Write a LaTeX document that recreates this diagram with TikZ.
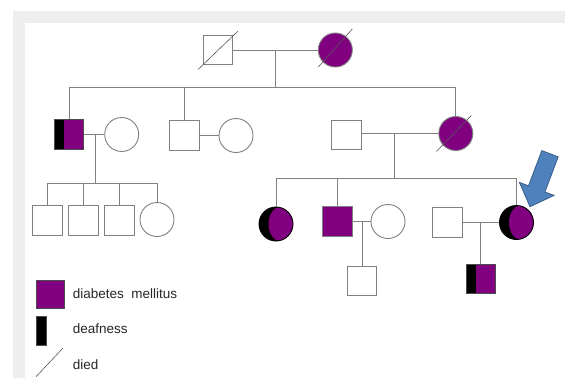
\documentclass[tikz,border=0pt]{standalone}
\usepackage{fontspec}
\setmainfont{Liberation Sans}
\definecolor{dpurple}{HTML}{800080}
\definecolor{lgray}{HTML}{808080}
\definecolor{bggray}{HTML}{EEEEEE}
\definecolor{arrowblue}{HTML}{4F81BD}
\definecolor{arrowedge}{HTML}{385D8A}
\begin{document}
\begin{tikzpicture}[x=1pt,y=-1pt,
  conn/.style={draw=lgray,line width=0.9pt},
  male/.style={rectangle,draw=lgray,line width=0.9pt,fill=white,minimum size=29.5pt,inner sep=0pt},
  female/.style={circle,draw=lgray,line width=0.9pt,fill=white,minimum size=34pt,inner sep=0pt},
  affm/.style={male,fill=dpurple},
  afff/.style={female,fill=dpurple},
  halfsq/.style={male,fill=dpurple,draw=black!70,
    path picture={\fill[black] (path picture bounding box.north west) rectangle ([xshift=10pt]path picture bounding box.south west);}},
  moon/.style={female,fill=black,draw=black,
    path picture={\fill[dpurple] ([xshift=5pt]path picture bounding box.center) ellipse [x radius=12.5pt, y radius=17.5pt];}},
  died/.style={draw=black!65,line width=0.6pt},
  lbl/.style={anchor=base west,inner sep=0pt,font=\fontsize{13.5pt}{16pt}\selectfont,text=black!85}
]
\useasboundingbox (0,0) rectangle (565,378);
% background
\fill[bggray] (12.7,11) rectangle (565,378);
\fill[white] (25,23) rectangle (565,378);

% Generation I
\node[male] (I1) at (218,50) {};
\node[afff] (I2) at (335.3,50) {};
\draw[died] ([shift={(-4.8,4.3)}]I1.south west) -- ([shift={(4.6,-3.6)}]I1.north east);
\draw[died] ([shift={(-17,17)}]I2.center) -- ([shift={(17,-21)}]I2.center);
\draw[conn] (I1) -- (I2);
\coordinate (m1) at (275.7,50);
\coordinate (s1) at (275.7,87.5);
\draw[conn] (m1) -- (s1);

% Generation II
\node[halfsq] (II1) at (69,134.5) {};
\node[female] (II2) at (121.7,134.5) {};
\node[male] (II3) at (184.5,135.5) {};
\node[female] (II4) at (236,135.5) {};
\node[male] (II5) at (346.5,135) {};
\node[afff] (II6) at (455.8,133.5) {};
\draw[died] ([shift={(-19.5,18)}]II6.center) -- ([shift={(15.5,-18)}]II6.center);
\draw[conn] (s1) -| (II1.north);
\draw[conn] (s1) -| (II3.north);
\draw[conn] (s1) -| (II6.north);
\draw[conn] (II1) -- (II2);
\draw[conn] (II3) -- (II4);
\draw[conn] (II5.east |- II6.center) -- (II6);

% left family gen III
\coordinate (m2) at (95,134.5);
\coordinate (s2) at (95,183);
\draw[conn] (m2) -- (s2);
\node[male] (III1) at (47.5,220.5) {};
\node[male] (III2) at (83.5,220.5) {};
\node[male] (III3) at (119.5,220.5) {};
\node[female] (III4) at (157,219.5) {};
\draw[conn] (s2) -| (III1.north);
\draw[conn] (s2) -| (III2.north);
\draw[conn] (s2) -| (III3.north);
\draw[conn] (s2) -| (III4.north);

% right family gen III
\coordinate (m3) at (394,133.5);
\coordinate (s3) at (394,178);
\draw[conn] (m3) -- (s3);
\node[moon] (III5) at (276,224) {};
\node[affm] (III6) at (337.5,221.5) {};
\node[female] (III7) at (388,221.5) {};
\node[male] (III8) at (447.5,222.5) {};
\node[moon] (III9) at (516.5,222.5) {};
\draw[conn] (s3) -| (III5.north);
\draw[conn] (s3) -| (III6.north);
\draw[conn] (s3) -| (III9.north);
\draw[conn] (III6) -- (III7);
\draw[conn] (III8) -- (III9);

% generation IV
\coordinate (m4) at (362,221.5);
\coordinate (m5) at (480.7,222.5);
\node[male] (IV1) at (362,281) {};
\node[halfsq] (IV2) at (480.7,279) {};
\draw[conn] (m4) -- (IV1.north);
\draw[conn] (m5) -- (IV2.north);

% proband arrow
\draw[fill=arrowblue,draw=arrowedge,line width=0.8pt,line join=miter]
  (530,206.7) -- (554,195.4) -- (544.9,192) -- (558.2,156.8) -- (541.8,150.6)
  -- (528.5,185.8) -- (519.4,182.4) -- cycle;

% legend
\node[rectangle,draw=black!70,line width=0.8pt,fill=dpurple,minimum size=28pt,inner sep=0pt] (L1) at (50,294) {};
\node[lbl] (T1) at (72.7,298.5) {diabetes\ \ mellitus};
\node[rectangle,draw=black!70,line width=0.8pt,fill=black,minimum width=10pt,minimum height=29pt,inner sep=0pt] (L2) at (41,330.5) {};
\node[lbl] (T2) at (72.7,333.5) {deafness};
\coordinate (L3a) at (36,376.7);
\coordinate (L3b) at (63,348);
\draw[died] (L3a) -- (L3b);
\node[lbl] (T3) at (72.7,369.3) {died};
\end{tikzpicture}
\end{document}
